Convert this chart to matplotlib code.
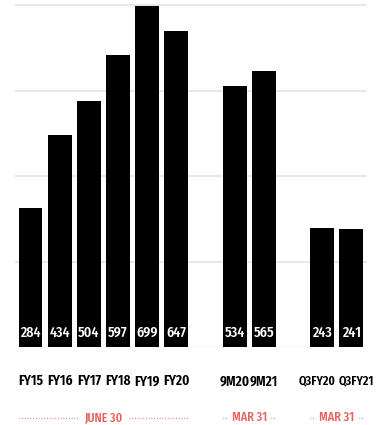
import matplotlib
matplotlib.use("Agg")
import matplotlib.pyplot as plt

periods = ["FY15", "FY16", "FY17", "FY18", "FY19", "FY20", "9M20", "9M21", "Q3FY20", "Q3FY21"]
values = [284, 434, 504, 597, 699, 647, 534, 565, 243, 241]
positions = [0, 1, 2, 3, 4, 5, 7, 8, 10, 11]
groups = ["JUNE 30", "MAR 31", "MAR 31"]
group_members = [[0, 1, 2, 3, 4, 5], [6, 7], [8, 9]]
grid_levels = [175, 350, 525, 700]

fam = ["Fira Sans Extra Condensed", "Open Sans Condensed", "DejaVu Sans"]

fig = plt.figure(figsize=(3.85, 4.25), dpi=100)
ax = fig.add_axes([0.039, 0.1835, 0.914, 0.8047 * 705 / 700])
ax.set_xlim(-0.53, 11.53)
ax.set_ylim(0, 705)

for g in grid_levels:
    ax.axhline(g, color="#e8e8e8", lw=1.4, zorder=0)
ax.axhline(0, color="#dddddd", lw=1.0, zorder=0)

ax.bar(positions, values, width=0.82, color="black", zorder=2)

for p, v in zip(positions, values):
    ax.text(p, 29, str(v), color="white", ha="center", va="center",
            fontsize=11, family=fam, fontweight="medium", zorder=3)

# category labels; in the two-bar groups the labels spread slightly apart
for members in group_members:
    for k, i in enumerate(members):
        name = periods[i]
        shift = 0.0
        if len(name) > 4:
            shift = -0.17 if k == 0 else 0.17
        size = 10.5 if len(name) <= 4 else 9.4
        ax.text(positions[i] + shift, -70, name, color="black", ha="center",
                va="center", fontsize=size, family=fam, fontweight="semibold",
                clip_on=False)

red = "#e8605a"
for label, members in zip(groups, group_members):
    xs = [positions[i] for i in members]
    lo, hi = xs[0] - 0.41, xs[-1] + 0.41
    mid = (xs[0] + xs[-1]) / 2
    gap = 0.86 if len(members) > 2 else 0.75
    ax.text(mid, -145, label, color=red, ha="center", va="center",
            fontsize=9.5, family=fam, fontweight="medium", clip_on=False)
    for a, b in [(lo, mid - gap), (mid + gap, hi)]:
        ax.plot([a, b], [-145, -145], color=red, lw=0.9,
                linestyle=(0, (0.6, 1.6)), clip_on=False)

ax.axis("off")
fig.savefig("out.png", dpi=100)
